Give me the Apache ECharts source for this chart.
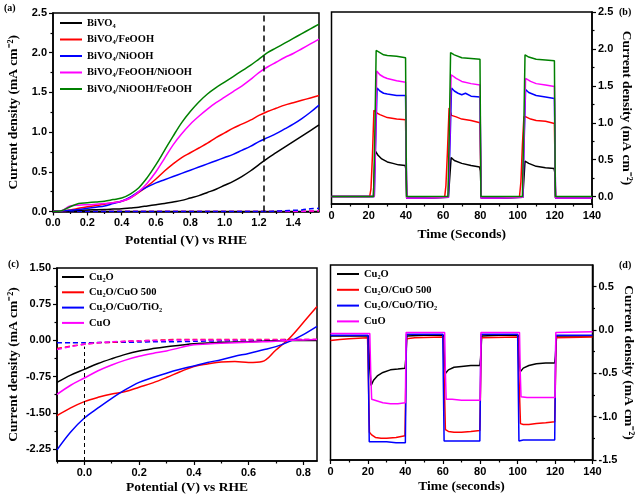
<!DOCTYPE html>
<html>
<head>
<meta charset="utf-8">
<script src="https://cdn.jsdelivr.net/npm/echarts@6/dist/echarts.min.js"></script>
<style>
html,body{margin:0;padding:0;background:#fff;}
#chart{width:638px;height:497px;}
</style>
</head>
<body>
<div id="chart"></div>
<script>
// ---------------- Panel (a): LSV of BiVO4 photoanodes ----------------
const aPotential = [0.00,0.05,0.10,0.15,0.20,0.25,0.30,0.35,0.40,0.45,0.50,0.55,0.60,0.65,0.70,0.75,0.80,0.85,0.90,0.95,1.00,1.05,1.10,1.15,1.20,1.25,1.30,1.35,1.40,1.45,1.50,1.55];
const aBiVO4      = [0,0,0.01,0.015,0.02,0.022,0.025,0.03,0.035,0.045,0.055,0.07,0.085,0.10,0.12,0.14,0.17,0.20,0.24,0.28,0.33,0.38,0.44,0.51,0.59,0.67,0.74,0.81,0.88,0.95,1.02,1.09];
const aFeOOH      = [0,0.005,0.02,0.04,0.06,0.075,0.09,0.11,0.13,0.17,0.24,0.32,0.41,0.51,0.60,0.68,0.74,0.80,0.86,0.93,0.99,1.05,1.10,1.15,1.21,1.26,1.30,1.34,1.37,1.40,1.43,1.46];
const aNiOOH      = [0,0.005,0.015,0.025,0.04,0.055,0.07,0.10,0.13,0.18,0.25,0.31,0.36,0.40,0.44,0.48,0.52,0.56,0.60,0.64,0.68,0.72,0.77,0.82,0.88,0.93,0.98,1.04,1.10,1.17,1.25,1.34];
const aFeNi       = [0,0.01,0.07,0.08,0.085,0.09,0.10,0.11,0.13,0.17,0.25,0.36,0.50,0.67,0.84,0.98,1.10,1.20,1.29,1.37,1.44,1.51,1.58,1.66,1.75,1.82,1.88,1.94,1.99,2.05,2.11,2.17];
const aNiFe       = [0,0.01,0.06,0.10,0.11,0.12,0.13,0.15,0.17,0.22,0.30,0.43,0.59,0.77,0.95,1.12,1.26,1.38,1.48,1.56,1.63,1.70,1.77,1.84,1.92,2.00,2.06,2.12,2.18,2.24,2.30,2.36];
const aDarkNiOOH  = [0,0,0,0,0,0,0,0,0,0,0,0,0,0,0,0,0,0,0,0,0,0,0,0,0,0,0.005,0.01,0.015,0.02,0.035,0.04];
const aDarkOther  = [0,0,0,0,0,0,0,0,0,0,0,0,0,0,0,0,0,0,0,0,0,0,0,0,0,0,0,0,0,0,0.005,0.01];
const aMarkPotential = 1.23;
const aXTicks = [0,0.2,0.4,0.6,0.8,1.0,1.2,1.4];
const aXMinor = [0.1,0.3,0.5,0.7,0.9,1.1,1.3,1.5];
const aYTicks = [0,0.5,1.0,1.5,2.0,2.5];
const aYMinor = [0.25,0.75,1.25,1.75,2.25];

// ---------------- Panel (b): chopped light transients ----------------
const bBiVO4 = [[0,0],[22.5,0],[23.5,0.62],[25,0.56],[27,0.51],[30,0.47],[33,0.45],[36,0.43],[39.6,0.42],[40,0.37],[40.5,-0.02],[50,-0.02],[62.8,-0.01],[64.3,0.53],[66,0.49],[70,0.45],[75,0.42],[79.6,0.40],[80,0.35],[80.5,-0.02],[90,-0.02],[102.8,-0.01],[104,0.48],[106,0.45],[110,0.41],[115,0.39],[119.6,0.38],[120,0.33],[120.5,-0.02],[140,-0.02]];
const bFeOOH = [[0,0],[20.5,0],[21.2,0.1],[22,0.55],[22.8,1.17],[23.5,1.15],[24.5,1.13],[26,1.11],[30,1.07],[35,1.05],[39.8,1.04],[40.4,-0.02],[50,-0.02],[60.8,-0.01],[61.5,0.15],[62.3,0.6],[63.2,1.2],[64.5,1.10],[67,1.08],[70,1.05],[75,1.03],[79.8,1.00],[80.4,-0.02],[90,-0.02],[101,-0.01],[101.8,0.2],[102.6,0.7],[103.4,1.08],[104.5,1.08],[107,1.05],[110,1.03],[115,1.02],[119.8,0.99],[120.4,-0.02],[140,-0.02]];
const bNiOOH = [[0,0],[23,0],[23.8,0.8],[24.5,1.47],[26,1.43],[28,1.40],[30,1.39],[35,1.37],[39.8,1.37],[40.4,-0.02],[50,-0.02],[62.8,-0.01],[63.8,0.8],[64.5,1.47],[66,1.43],[68,1.40],[70,1.38],[72,1.40],[75,1.36],[79.8,1.35],[80.4,-0.02],[90,-0.02],[102.8,-0.01],[103.6,0.8],[104.3,1.45],[106,1.41],[110,1.37],[115,1.35],[119.8,1.33],[120.4,-0.02],[140,-0.02]];
const bFeNi  = [[0,0],[23,0],[23.8,0.9],[24.3,1.70],[26,1.65],[28,1.62],[30,1.60],[35,1.57],[39.8,1.55],[40.4,-0.02],[50,-0.02],[62.8,-0.01],[63.6,0.9],[64.3,1.65],[67,1.60],[70,1.56],[75,1.53],[79.8,1.51],[80.4,-0.02],[90,-0.02],[102.8,-0.01],[103.6,0.9],[104.3,1.60],[107,1.56],[110,1.53],[115,1.51],[119.8,1.49],[120.4,-0.02],[140,-0.02]];
const bNiFe  = [[0,0],[22.6,0],[23.4,1.0],[24,1.98],[26,1.95],[28,1.92],[30,1.91],[35,1.90],[39.8,1.88],[40.3,0],[62.6,0],[63.4,1.0],[64,1.95],[66,1.92],[70,1.88],[75,1.87],[79.8,1.86],[80.3,0],[102.6,0],[103.4,1.0],[104,1.92],[106,1.89],[110,1.86],[115,1.85],[119.8,1.84],[120.3,0],[140,0]];
const bXTicks = [0,20,40,60,80,100,120,140];
const bXMinor = [10,30,50,70,90,110,130];
const bYTicks = [0,0.5,1.0,1.5,2.0,2.5];
const bYMinor = [0.25,0.75,1.25,1.75,2.25];

// ---------------- Panel (c): LSV of Cu oxide photocathodes ----------------
const cPotential = [-0.10,-0.05,0.00,0.05,0.10,0.15,0.20,0.25,0.30,0.35,0.40,0.45,0.50,0.55,0.60,0.65,0.70,0.75,0.80,0.85];
const cCu2O    = [-0.87,-0.72,-0.60,-0.48,-0.38,-0.29,-0.22,-0.17,-0.13,-0.10,-0.07,-0.055,-0.04,-0.035,-0.03,-0.02,-0.01,0,0,0];
const cCuO500  = [-1.56,-1.40,-1.27,-1.18,-1.11,-1.06,-0.97,-0.88,-0.77,-0.65,-0.54,-0.49,-0.45,-0.44,-0.46,-0.44,-0.20,0.05,0.37,0.70];
const cTiO2    = [-2.27,-1.90,-1.61,-1.40,-1.20,-1.02,-0.87,-0.77,-0.68,-0.60,-0.53,-0.46,-0.40,-0.33,-0.27,-0.20,-0.13,-0.02,0.12,0.29];
const cCuO     = [-1.12,-0.93,-0.78,-0.63,-0.51,-0.41,-0.33,-0.27,-0.22,-0.15,-0.09,-0.075,-0.06,-0.05,-0.04,-0.03,-0.02,0,0.01,0.02];
const cDarkCuO500 = [-0.17,-0.12,-0.08,-0.05,-0.04,-0.02,-0.01,0,0.01,0.02,0.02,0.02,0.02,0.02,0.02,0.02,0.02,0.02,0.02,0.02];
const cDarkTiO2   = [-0.05,-0.05,-0.05,-0.045,-0.04,-0.04,-0.035,-0.03,-0.03,-0.025,-0.02,-0.015,-0.01,-0.005,0,0,0,0.01,0.01,0.01];
const cDarkCuO    = [-0.19,-0.13,-0.08,-0.05,-0.03,-0.02,-0.01,0,0,0.01,0.01,0.01,0.01,0.01,0.01,0.01,0.01,0.02,0.02,0.02];
const cMarkPotential = 0;
const cMarkTop = -0.13;
const cXTicks = [0,0.2,0.4,0.6,0.8];
const cXMinor = [-0.1,0.1,0.3,0.5,0.7];
const cYTicks = [-2.25,-1.5,-0.75,0,0.75,1.5];
const cYMinor = [-1.875,-1.125,-0.375,0.375,1.125];

// ---------------- Panel (d): chopped light transients ----------------
const dCu2O   = [[0,-0.07],[20.3,-0.07],[21,-0.45],[21.7,-0.64],[23,-0.58],[25,-0.53],[28,-0.49],[32,-0.46],[36,-0.45],[39.8,-0.44],[40.2,-0.34],[40.8,-0.07],[50,-0.06],[60.3,-0.06],[61,-0.40],[61.5,-0.50],[63,-0.46],[66,-0.43],[70,-0.42],[75,-0.41],[79.8,-0.41],[80.2,-0.33],[80.8,-0.07],[90,-0.06],[100.3,-0.06],[101,-0.40],[101.5,-0.48],[103,-0.44],[106,-0.41],[110,-0.39],[115,-0.38],[119.8,-0.38],[120.2,-0.30],[120.8,-0.07],[140,-0.07]];
const dCuO500 = [[0,-0.12],[5,-0.11],[10,-0.10],[19.8,-0.09],[20.3,-0.6],[20.8,-1.18],[22,-1.21],[24,-1.24],[27,-1.25],[30,-1.25],[35,-1.24],[39.8,-1.22],[40.6,-0.10],[45,-0.09],[60.2,-0.08],[60.8,-0.6],[61.4,-1.15],[63,-1.17],[66,-1.18],[70,-1.18],[75,-1.17],[79.8,-1.16],[80.6,-0.09],[100.2,-0.08],[100.8,-0.6],[101.5,-1.08],[103,-1.09],[106,-1.09],[110,-1.08],[115,-1.07],[119.8,-1.06],[120.6,-0.09],[140,-0.08]];
const dTiO2   = [[0,-0.06],[20,-0.06],[20.3,-0.6],[20.7,-1.29],[25,-1.29],[30,-1.29],[35,-1.30],[40,-1.30],[40.6,-0.05],[60,-0.05],[60.3,-0.6],[60.7,-1.28],[70,-1.28],[79.8,-1.28],[80.4,-0.05],[100,-0.05],[100.3,-0.6],[100.7,-1.28],[103,-1.27],[110,-1.27],[119.8,-1.27],[120.4,-0.06],[140,-0.06]];
const dCuO    = [[0,-0.04],[21,-0.04],[21.5,-0.5],[22,-0.80],[25,-0.82],[28,-0.84],[32,-0.85],[36,-0.85],[40,-0.84],[40.4,-0.03],[61,-0.03],[61.4,-0.5],[61.8,-0.80],[65,-0.80],[70,-0.81],[75,-0.81],[80,-0.81],[80.4,-0.03],[101,-0.03],[101.4,-0.5],[101.8,-0.77],[105,-0.78],[110,-0.78],[115,-0.78],[120,-0.78],[120.4,-0.03],[140,-0.02]];
const dXTicks = [0,20,40,60,80,100,120,140];
const dXMinor = [10,30,50,70,90,110,130];
const dYTicks = [-1.5,-1.0,-0.5,0,0.5];
const dYMinor = [-1.25,-0.75,-0.25,0.25];

// ---------------- names, colours, titles ----------------
const namesA = ['BiVO₄','BiVO₄/FeOOH','BiVO₄/NiOOH','BiVO₄/FeOOH/NiOOH','BiVO₄/NiOOH/FeOOH'];
const colorsA = ['#000000','#ff0000','#0000ff','#ff00ff','#008000'];
const namesC = ['Cu₂O','Cu₂O/CuO 500','Cu₂O/CuO/TiO₂','CuO'];
const colorsC = ['#000000','#ff0000','#0000ff','#ff00ff'];
const yName = 'Current density (mA cm⁻²)';
const xNamePot = 'Potential (V) vs RHE';
const xNameB = 'Time (Seconds)';
const xNameD = 'Time (seconds)';
const panelLabels = ['(a)','(b)','(c)','(d)'];

// ---------------- build option ----------------
const SERIF = 'Liberation Serif';
const SANS = 'Liberation Sans';
const nameStyle = {fontFamily: SERIF, fontWeight: 'bold', fontSize: 13.5, color: '#000'};

function pairs(xs, ys){ return xs.map((x,i)=>[x, ys[i]]); }

function mainAxis(g, min, max, pos, ticks, digits, name, gap, rot){
  const ax = {
    type:'value', gridIndex:g, min:min, max:max, position:pos,
    axisLine:{show:true, onZero:false, lineStyle:{color:'#000', width:1.5}},
    axisTick:{show:true, inside:false, length:4, customValues:ticks, lineStyle:{color:'#000', width:1.2}},
    axisLabel:{show:true, customValues:ticks, margin:6, fontFamily:SANS, fontWeight:'bold', fontSize:11, color:'#000',
      formatter:(v)=> digits===0 ? String(Math.round(v)) : Number(v).toFixed(digits)},
    splitLine:{show:false},
    name:name, nameLocation:'middle', nameGap:gap, nameTextStyle:nameStyle
  };
  if (rot !== undefined) ax.nameRotate = rot;
  return ax;
}
function minorAxis(g, min, max, pos, ticks){
  return {
    type:'value', gridIndex:g, min:min, max:max, position:pos,
    axisLine:{show:false, onZero:false},
    axisTick:{show:true, inside:false, length:2.5, customValues:ticks, lineStyle:{color:'#000', width:1.2}},
    axisLabel:{show:false}, splitLine:{show:false}
  };
}

const grids = [
  {left:53, top:13, width:266, height:198.5},
  {left:331.5, top:12, width:260.5, height:192},
  {left:57, top:268, width:260, height:193},
  {left:330.5, top:265, width:262, height:195}
].map(g=>Object.assign(g,{show:true, borderColor:'#000', borderWidth:1.5, containLabel:false}));

const xAxis = [
  mainAxis(0, 0, 1.55, 'bottom', aXTicks, 1, xNamePot, 22),
  minorAxis(0, 0, 1.55, 'bottom', aXMinor),
  mainAxis(1, 0, 140, 'bottom', bXTicks, 0, xNameB, 24),
  minorAxis(1, 0, 140, 'bottom', bXMinor),
  mainAxis(2, -0.1, 0.85, 'bottom', cXTicks, 1, xNamePot, 20),
  minorAxis(2, -0.1, 0.85, 'bottom', cXMinor),
  mainAxis(3, 0, 140, 'bottom', dXTicks, 0, xNameD, 20),
  minorAxis(3, 0, 140, 'bottom', dXMinor)
];
const yAxis = [
  mainAxis(0, 0, 2.5, 'left', aYTicks, 1, yName, 32, 90),
  minorAxis(0, 0, 2.5, 'left', aYMinor),
  mainAxis(1, -0.1, 2.5, 'right', bYTicks, 1, yName, 27, -90),
  minorAxis(1, -0.1, 2.5, 'right', bYMinor),
  mainAxis(2, -2.5, 1.5, 'left', cYTicks, 2, yName, 36, 90),
  minorAxis(2, -2.5, 1.5, 'left', cYMinor),
  mainAxis(3, -1.5, 0.75, 'right', dYTicks, 1, yName, 23, -90),
  minorAxis(3, -1.5, 0.75, 'right', dYMinor)
];

function line(name, color, data, xi, yi, opts){
  return Object.assign({
    type:'line', name:name, xAxisIndex:xi, yAxisIndex:yi, data:data,
    showSymbol:false, symbol:'none', animation:false,
    lineStyle:{color:color, width:1.5}, itemStyle:{color:color}
  }, opts||{});
}
function dashed(name, color, data, xi, yi){
  return line(name, color, data, xi, yi, {smooth:0.3, lineStyle:{color:color, width:1.5, type:[5,3]}, z:1});
}

const series = [];
// (a) dark currents
series.push(dashed('a-dark-FeOOH', '#ff0000', pairs(aPotential, aDarkOther), 0, 0));
series.push(dashed('a-dark-FeNi', '#ff00ff', pairs(aPotential, aDarkOther), 0, 0));
series.push(dashed('a-dark-NiOOH', '#0000ff', pairs(aPotential, aDarkNiOOH), 0, 0));
// (a) light
const aSets = [aBiVO4, aFeOOH, aNiOOH, aFeNi, aNiFe];
aSets.forEach((ys,i)=>{
  const s = line(namesA[i], colorsA[i], pairs(aPotential, ys), 0, 0, {smooth:0.35});
  if (i===0) s.markLine = {silent:true, symbol:['none','none'], label:{show:false}, animation:false,
    lineStyle:{color:'#000', width:1.5, type:[6,4]}, data:[{xAxis:aMarkPotential}]};
  series.push(s);
});
// (b)
[bBiVO4, bFeOOH, bNiOOH, bFeNi, bNiFe].forEach((d,i)=>{
  series.push(line(namesA[i], colorsA[i], d, 2, 2));
});
// (c) dark
series.push(dashed('c-dark-TiO2', '#0000ff', pairs(cPotential, cDarkTiO2), 4, 4));
series.push(dashed('c-dark-CuO500', '#ff0000', pairs(cPotential, cDarkCuO500), 4, 4));
series.push(dashed('c-dark-CuO', '#ff00ff', pairs(cPotential, cDarkCuO), 4, 4));
// (c) light
[cCu2O, cCuO500, cTiO2, cCuO].forEach((ys,i)=>{
  const s = line(namesC[i], colorsC[i], pairs(cPotential, ys), 4, 4, {smooth:0.35});
  if (i===0) s.markLine = {silent:true, symbol:['none','none'], label:{show:false}, animation:false,
    lineStyle:{color:'#000', width:1, type:[4,3]},
    data:[[{coord:[cMarkPotential,-2.5]},{coord:[cMarkPotential,cMarkTop]}]]};
  series.push(s);
});
// (d)
[dCu2O, dCuO500, dTiO2, dCuO].forEach((d,i)=>{
  series.push(line(namesC[i], colorsC[i], d, 6, 6));
});

const legendText = {fontFamily:SERIF, fontWeight:'bold', fontSize:10.5, color:'#000', lineHeight:12};
const legendBase = {orient:'vertical', icon:'rect', itemWidth:22, itemHeight:2, itemGap:4.5, padding:0, textStyle:legendText, selectedMode:false};

const option = {
  backgroundColor:'#fff',
  animation:false,
  grid:grids,
  xAxis:xAxis,
  yAxis:yAxis,
  legend:[
    Object.assign({}, legendBase, {data:namesA, left:60, top:17, itemGap:4.5}),
    Object.assign({}, legendBase, {data:namesC, left:62, top:271, itemGap:3.3}),
    Object.assign({}, legendBase, {data:namesC, left:337, top:268, itemGap:3.8})
  ],
  graphic:[
    {type:'text', left:4, top:3, style:{text:panelLabels[0], font:'bold 10px "Liberation Serif"', fill:'#000'}},
    {type:'text', left:619, top:7, style:{text:panelLabels[1], font:'bold 10px "Liberation Serif"', fill:'#000'}},
    {type:'text', left:8, top:259, style:{text:panelLabels[2], font:'bold 10px "Liberation Serif"', fill:'#000'}},
    {type:'text', left:619, top:260, style:{text:panelLabels[3], font:'bold 10px "Liberation Serif"', fill:'#000'}}
  ],
  series:series
};

const chart = echarts.init(document.getElementById('chart'), null, {renderer:'canvas'});
chart.setOption(option);
</script>
</body>
</html>
